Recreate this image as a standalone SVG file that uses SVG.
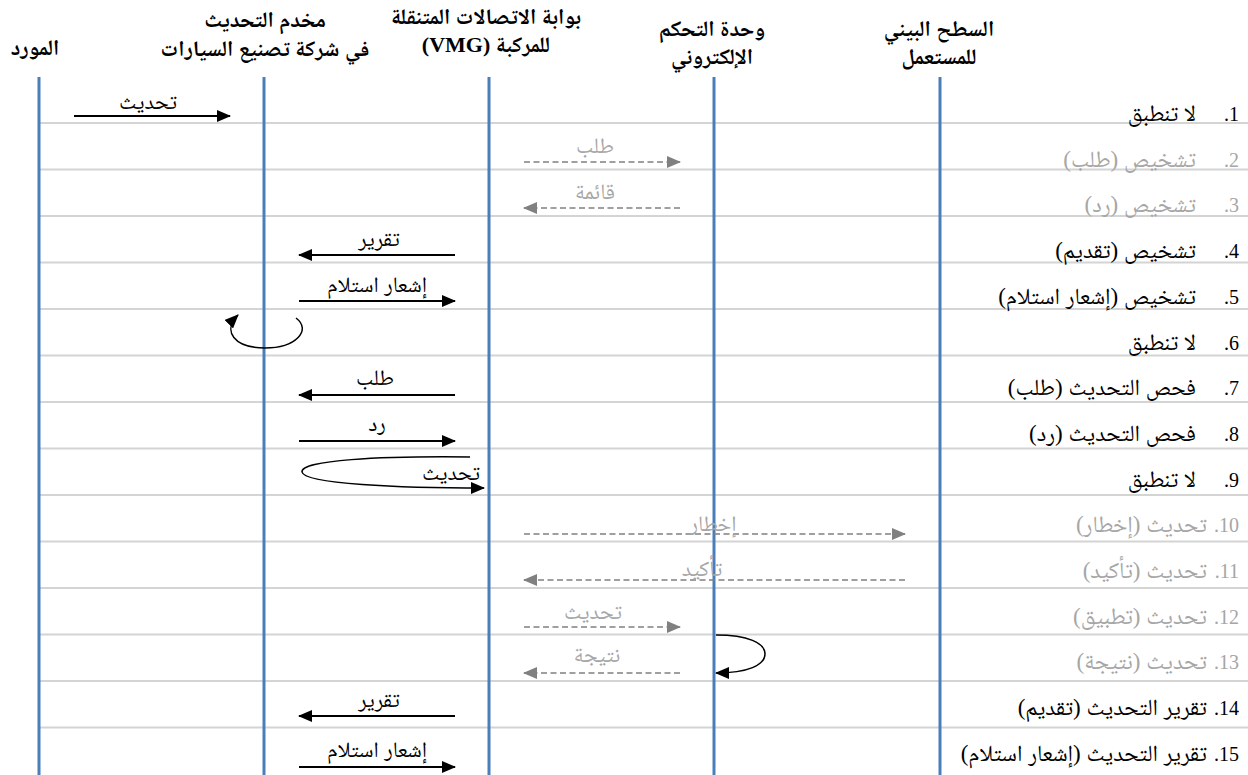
<svg xmlns="http://www.w3.org/2000/svg" width="1248" height="775" viewBox="0 0 1248 775">
  <style>
    .sep { stroke: #d4d4d4; stroke-width: 2; }
    .life { stroke: #4a7ebb; stroke-width: 3; }
    .hdr { font-family: 'Liberation Serif', 'Noto Naskh Arabic', 'Noto Sans Arabic', 'DejaVu Sans', serif; font-size: 22px; font-weight: bold; fill: #000; text-anchor: middle; }
    .lbl { font-family: 'Liberation Serif', 'Noto Naskh Arabic', 'Noto Sans Arabic', 'DejaVu Sans', serif; font-size: 22px; fill: #000; text-anchor: middle; }
    .lbl.g { fill: #a6a6a6; }
    .num { font-family: 'Liberation Serif', serif; font-size: 20px; fill: #000; }
    .row { font-family: 'Liberation Serif', 'Noto Naskh Arabic', 'Noto Sans Arabic', 'DejaVu Sans', serif; font-size: 23px; fill: #000; }
    .g { fill: #a6a6a6; }
    .msg { fill: none; stroke: #000; stroke-width: 2; marker-end: url(#ah); }
    .opt { fill: none; stroke: #808080; stroke-width: 1.6; stroke-dasharray: 6 3.5; marker-end: url(#ahg); }
    .loop { fill: none; stroke: #000; stroke-width: 1.5; marker-end: url(#ah); }
  </style>
  <defs>
    <marker id="ah" markerUnits="userSpaceOnUse" markerWidth="14" markerHeight="12" refX="13" refY="6" orient="auto">
      <path d="M0,0 L14,6 L0,12 z" fill="#000"/>
    </marker>
    <marker id="ahg" markerUnits="userSpaceOnUse" markerWidth="14" markerHeight="12" refX="13" refY="6" orient="auto">
      <path d="M0,0 L14,6 L0,12 z" fill="#808080"/>
    </marker>
  </defs>

  <rect width="1248" height="775" fill="#fff"/>

  <!-- row separators -->
  <g id="rows">
    <line class="sep" x1="39" y1="123" x2="1248" y2="123"/>
    <line class="sep" x1="39" y1="169.5" x2="1248" y2="169.5"/>
    <line class="sep" x1="39" y1="216" x2="1248" y2="216"/>
    <line class="sep" x1="39" y1="262.5" x2="1248" y2="262.5"/>
    <line class="sep" x1="39" y1="309" x2="1248" y2="309"/>
    <line class="sep" x1="39" y1="355.5" x2="1248" y2="355.5"/>
    <line class="sep" x1="39" y1="402" x2="1248" y2="402"/>
    <line class="sep" x1="39" y1="448.5" x2="1248" y2="448.5"/>
    <line class="sep" x1="39" y1="495" x2="1248" y2="495"/>
    <line class="sep" x1="39" y1="541.5" x2="1248" y2="541.5"/>
    <line class="sep" x1="39" y1="588" x2="1248" y2="588"/>
    <line class="sep" x1="39" y1="634.5" x2="1248" y2="634.5"/>
    <line class="sep" x1="39" y1="681" x2="1248" y2="681"/>
    <line class="sep" x1="39" y1="727.5" x2="1248" y2="727.5"/>
  </g>

  <!-- participants -->
  <g id="supplier">
    <text class="hdr" x="35" y="55" direction="rtl">المورد</text>
    <line class="life" x1="39" y1="77" x2="39" y2="775"/>
  </g>
  <g id="oem-server">
    <text class="hdr" x="265" y="27" direction="rtl">مخدم التحديث</text>
    <text class="hdr" x="265" y="56" direction="rtl">في شركة تصنيع السيارات</text>
    <line class="life" x1="264" y1="77" x2="264" y2="775"/>
  </g>
  <g id="vmg">
    <text class="hdr" x="486" y="24" direction="rtl">بوابة الاتصالات المتنقلة</text>
    <text class="hdr" x="486" y="52" direction="rtl">للمركبة (VMG)</text>
    <line class="life" x1="489" y1="77" x2="489" y2="775"/>
  </g>
  <g id="ecu">
    <text class="hdr" x="712" y="36" direction="rtl">وحدة التحكم</text>
    <text class="hdr" x="712" y="64" direction="rtl">الإلكتروني</text>
    <line class="life" x1="714" y1="77" x2="714" y2="775"/>
  </g>
  <g id="hmi">
    <text class="hdr" x="939" y="36" direction="rtl">السطح البيني</text>
    <text class="hdr" x="939" y="64" direction="rtl">للمستعمل</text>
    <line class="life" x1="940" y1="77" x2="940" y2="775"/>
  </g>

  <!-- messages -->
  <g id="connectors">
    <line class="msg" x1="74" y1="116" x2="230" y2="116"/>
    <text class="lbl" x="148" y="109">تحديث</text>

    <line class="opt" x1="524" y1="162" x2="680" y2="162"/>
    <text class="lbl g" x="595" y="153">طلب</text>

    <line class="opt" x1="680" y1="208" x2="524" y2="208"/>
    <text class="lbl g" x="595" y="199">قائمة</text>

    <line class="msg" x1="455" y1="255" x2="299" y2="255"/>
    <text class="lbl" x="379" y="246">تقرير</text>

    <line class="msg" x1="299" y1="301" x2="455" y2="301"/>
    <text class="lbl" x="377" y="292">إشعار استلام</text>

    <path class="loop" d="M296,318 C312,330 296,348 265,348 C234,348 222,331 238,315"/>

    <line class="msg" x1="455" y1="395" x2="299" y2="395"/>
    <text class="lbl" x="375" y="385">طلب</text>

    <line class="msg" x1="299" y1="441" x2="455" y2="441"/>
    <text class="lbl" x="377" y="431">رد</text>

    <path class="loop" d="M470,457 C380,456 300,460 302,472 C304,484 400,488 484,488"/>
    <text class="lbl" x="451" y="480">تحديث</text>

    <line class="opt" x1="524" y1="534" x2="905" y2="534"/>
    <text class="lbl g" x="713" y="531">إخطار</text>

    <line class="opt" x1="905" y1="580" x2="524" y2="580"/>
    <text class="lbl g" x="702" y="576">تأكيد</text>

    <line class="opt" x1="524" y1="627" x2="680" y2="627"/>
    <text class="lbl g" x="593" y="619">تحديث</text>

    <line class="opt" x1="680" y1="673" x2="524" y2="673"/>
    <text class="lbl g" x="597" y="662">نتيجة</text>

    <path class="loop" d="M716,635 C748,635 765,643 765,654 C765,665 748,673 716,673"/>

    <line class="msg" x1="455" y1="716" x2="299" y2="716"/>
    <text class="lbl" x="379" y="707">تقرير</text>

    <line class="msg" x1="299" y1="767" x2="455" y2="767"/>
    <text class="lbl" x="377" y="757">إشعار استلام</text>
  </g>

  <!-- step list -->
  <g id="steps">
    <text class="num" x="1239" y="121" direction="rtl" text-anchor="start">1.</text>
    <text class="row" x="1196" y="121" direction="rtl" text-anchor="start">لا تنطبق</text>
    <text class="num g" x="1239" y="166.7" direction="rtl" text-anchor="start">2.</text>
    <text class="row g" x="1196" y="166.7" direction="rtl" text-anchor="start">تشخيص (طلب)</text>
    <text class="num g" x="1239" y="212.4" direction="rtl" text-anchor="start">3.</text>
    <text class="row g" x="1196" y="212.4" direction="rtl" text-anchor="start">تشخيص (رد)</text>
    <text class="num" x="1239" y="258.1" direction="rtl" text-anchor="start">4.</text>
    <text class="row" x="1196" y="258.1" direction="rtl" text-anchor="start">تشخيص (تقديم)</text>
    <text class="num" x="1239" y="303.8" direction="rtl" text-anchor="start">5.</text>
    <text class="row" x="1196" y="303.8" direction="rtl" text-anchor="start">تشخيص (إشعار استلام)</text>
    <text class="num" x="1239" y="349.5" direction="rtl" text-anchor="start">6.</text>
    <text class="row" x="1196" y="349.5" direction="rtl" text-anchor="start">لا تنطبق</text>
    <text class="num" x="1239" y="395.2" direction="rtl" text-anchor="start">7.</text>
    <text class="row" x="1196" y="395.2" direction="rtl" text-anchor="start">فحص التحديث (طلب)</text>
    <text class="num" x="1239" y="440.9" direction="rtl" text-anchor="start">8.</text>
    <text class="row" x="1196" y="440.9" direction="rtl" text-anchor="start">فحص التحديث (رد)</text>
    <text class="num" x="1239" y="486.6" direction="rtl" text-anchor="start">9.</text>
    <text class="row" x="1196" y="486.6" direction="rtl" text-anchor="start">لا تنطبق</text>
    <text class="num g" x="1239" y="532.3" direction="rtl" text-anchor="start">10.</text>
    <text class="row g" x="1207" y="532.3" direction="rtl" text-anchor="start">تحديث (إخطار)</text>
    <text class="num g" x="1239" y="578" direction="rtl" text-anchor="start">11.</text>
    <text class="row g" x="1207" y="578" direction="rtl" text-anchor="start">تحديث (تأكيد)</text>
    <text class="num g" x="1239" y="623.7" direction="rtl" text-anchor="start">12.</text>
    <text class="row g" x="1207" y="623.7" direction="rtl" text-anchor="start">تحديث (تطبيق)</text>
    <text class="num g" x="1239" y="669.4" direction="rtl" text-anchor="start">13.</text>
    <text class="row g" x="1207" y="669.4" direction="rtl" text-anchor="start">تحديث (نتيجة)</text>
    <text class="num" x="1239" y="715.1" direction="rtl" text-anchor="start">14.</text>
    <text class="row" x="1207" y="715.1" direction="rtl" text-anchor="start">تقرير التحديث (تقديم)</text>
    <text class="num" x="1239" y="760.8" direction="rtl" text-anchor="start">15.</text>
    <text class="row" x="1207" y="760.8" direction="rtl" text-anchor="start">تقرير التحديث (إشعار استلام)</text>
  </g>
</svg>
